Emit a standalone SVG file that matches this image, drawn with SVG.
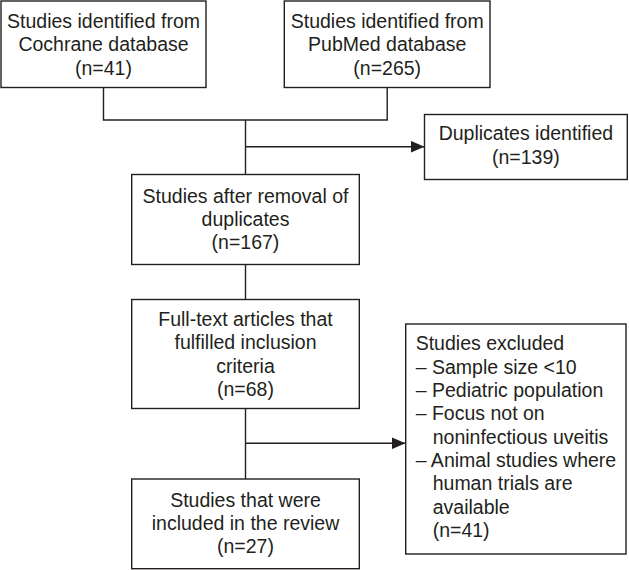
<svg xmlns="http://www.w3.org/2000/svg" width="629" height="570" viewBox="0 0 629 570">
<defs>
<style>
.box{fill:#fff;stroke:#231f20;stroke-width:1.4}
.ln{fill:none;stroke:#231f20;stroke-width:1.4}
text{font-family:"Liberation Sans",Arial,sans-serif;font-size:19.5px;fill:#231f20}
.c{text-anchor:middle}
</style>
<marker id="ah" viewBox="0 0 14 12" refX="14" refY="6" markerWidth="14" markerHeight="12" markerUnits="userSpaceOnUse" orient="auto">
<path d="M0,0 L14,6 L0,12 Z" fill="#231f20"/>
</marker>
</defs>
<rect width="629" height="570" fill="#fff"/>
<g id="connectors">
<polyline class="ln" points="103.5,87.5 103.5,120 387.2,120 387.2,87.5"/>
<line class="ln" x1="245.5" y1="120" x2="245.5" y2="174.5"/>
<line class="ln" x1="245.5" y1="146.7" x2="424.5" y2="146.7" marker-end="url(#ah)"/>
<line class="ln" x1="245.5" y1="264.5" x2="245.5" y2="299.5"/>
<line class="ln" x1="245.5" y1="408.5" x2="245.5" y2="479"/>
<line class="ln" x1="245.5" y1="443.3" x2="405.5" y2="443.3" marker-end="url(#ah)"/>
</g>
<g id="cochrane">
<rect class="box" x="1" y="1" width="205" height="86.5"/>
<text class="c" x="103.5" y="27.5">Studies identified from</text>
<text class="c" x="103.5" y="51">Cochrane database</text>
<text class="c" x="103.5" y="74.5">(n=41)</text>
</g>
<g id="pubmed">
<rect class="box" x="284.3" y="1" width="205.7" height="86.5"/>
<text class="c" x="387.2" y="27.5">Studies identified from</text>
<text class="c" x="387.2" y="51">PubMed database</text>
<text class="c" x="387.2" y="74.5">(n=265)</text>
</g>
<g id="duplicates">
<rect class="box" x="424.5" y="114.5" width="202.8" height="65"/>
<text class="c" x="525.9" y="140">Duplicates identified</text>
<text class="c" x="525.9" y="164">(n=139)</text>
</g>
<g id="after-removal">
<rect class="box" x="131.7" y="174.5" width="227.6" height="90"/>
<text class="c" x="245.5" y="202.5">Studies after removal of</text>
<text class="c" x="245.5" y="225.5">duplicates</text>
<text class="c" x="245.5" y="249">(n=167)</text>
</g>
<g id="full-text">
<rect class="box" x="131.7" y="299.5" width="227.6" height="109"/>
<text class="c" x="245.5" y="326">Full-text articles that</text>
<text class="c" x="245.5" y="349.3">fulfilled inclusion</text>
<text class="c" x="245.5" y="372.6">criteria</text>
<text class="c" x="245.5" y="396">(n=68)</text>
</g>
<g id="excluded">
<rect class="box" x="405.7" y="324" width="220.3" height="230"/>
<text x="415.7" y="350">Studies excluded</text>
<text x="415.7" y="373.5">– Sample size &lt;10</text>
<text x="415.7" y="396.8">– Pediatric population</text>
<text x="415.7" y="420.2">– Focus not on</text>
<text x="432.7" y="443.5">noninfectious uveitis</text>
<text x="415.7" y="466.8">– Animal studies where</text>
<text x="432.7" y="490.2">human trials are</text>
<text x="432.7" y="513.5">available</text>
<text x="432.7" y="536.8">(n=41)</text>
</g>
<g id="included">
<rect class="box" x="131.7" y="479" width="227.6" height="89.7"/>
<text class="c" x="245.5" y="506.7">Studies that were</text>
<text class="c" x="245.5" y="530">included in the review</text>
<text class="c" x="245.5" y="553.3">(n=27)</text>
</g>
</svg>
